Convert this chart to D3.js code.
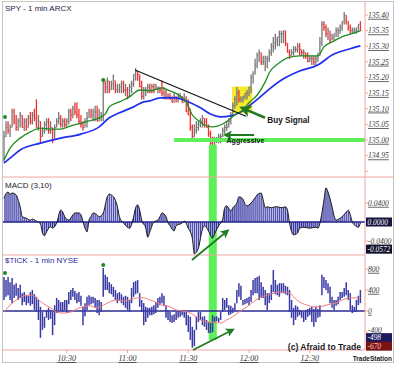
<!DOCTYPE html>
<html><head><meta charset="utf-8">
<script src="https://cdn.jsdelivr.net/npm/d3@7"></script>
<style>body{margin:0;background:#fff}svg{display:block}text{font-family:"Liberation Sans",Arial,sans-serif}text.ax{font-family:"Liberation Serif","DejaVu Serif",serif;font-style:italic}</style>
</head><body><svg id="c" width="400" height="368"></svg>
<script>
// ---------- DATA (1-minute bars starting 09:59) ----------
const startTime = "09:59";
const priceHigh = [135.03,135.06,135.06,135.05,135.10,135.10,135.08,135.07,135.09,135.08,
135.07,135.07,135.08,135.09,135.09,135.10,135.13,135.08,135.06,135.04,
135.06,135.07,135.07,135.06,135.04,135.05,135.07,135.09,135.08,135.07,
135.07,135.07,135.10,135.10,135.11,135.12,135.12,135.10,135.08,135.06,
135.07,135.09,135.10,135.10,135.10,135.11,135.11,135.10,135.09,135.19,
135.19,135.20,135.19,135.19,135.21,135.19,135.18,135.18,135.19,135.19,
135.18,135.17,135.18,135.19,135.21,135.23,135.22,135.21,135.19,135.17,
135.17,135.18,135.18,135.18,135.18,135.18,135.17,135.17,135.19,135.17,
135.16,135.15,135.15,135.14,135.15,135.14,135.15,135.15,135.14,135.15,
135.14,135.13,135.10,135.05,135.05,135.06,135.06,135.07,135.08,135.07,
135.07,135.05,135.03,135.01,135.01,135.01,135.02,135.02,135.04,135.05,
135.06,135.07,135.09,135.12,135.14,135.17,135.16,135.14,135.14,135.15,
135.16,135.17,135.21,135.22,135.26,135.28,135.29,135.28,135.27,135.27,
135.27,135.29,135.31,135.33,135.34,135.33,135.35,135.35,135.35,135.35,
135.31,135.29,135.29,135.30,135.30,135.31,135.31,135.29,135.29,135.28,
135.28,135.27,135.27,135.27,135.27,135.28,135.33,135.38,135.38,135.37,
135.36,135.35,135.34,135.34,135.36,135.36,135.37,135.38,135.41,135.40,
135.38,135.37,135.36,135.36,135.36,135.37,135.38];
const priceLow = [134.93,135.01,135.02,135.01,135.04,135.05,135.03,135.03,135.04,135.04,
135.03,135.03,135.04,135.05,135.05,135.06,135.04,135.03,134.99,135.01,
135.02,135.03,135.02,135.02,134.99,135.00,135.04,135.05,135.04,135.04,
135.04,135.04,135.05,135.06,135.07,135.08,135.07,135.05,135.04,135.03,
135.04,135.04,135.07,135.07,135.06,135.06,135.06,135.06,135.06,135.06,
135.15,135.15,135.15,135.16,135.16,135.15,135.15,135.15,135.15,135.15,
135.14,135.13,135.14,135.15,135.17,135.19,135.19,135.17,135.13,135.13,
135.14,135.15,135.15,135.15,135.15,135.16,135.15,135.15,135.14,135.13,
135.13,135.13,135.13,135.12,135.12,135.12,135.12,135.13,135.12,135.12,
135.09,135.08,135.03,135.00,135.01,135.02,135.03,135.04,135.04,135.04,
135.04,135.01,134.98,134.97,134.97,134.99,134.99,134.99,135.01,135.02,
135.03,135.04,135.05,135.08,135.10,135.11,135.12,135.12,135.12,135.13,
135.13,135.14,135.15,135.18,135.21,135.23,135.25,135.24,135.24,135.22,
135.23,135.25,135.27,135.28,135.29,135.30,135.30,135.31,135.31,135.30,
135.28,135.26,135.27,135.27,135.28,135.28,135.27,135.27,135.26,135.26,
135.25,135.25,135.24,135.24,135.24,135.25,135.27,135.30,135.35,135.33,
135.32,135.31,135.32,135.32,135.33,135.33,135.34,135.35,135.37,135.37,
135.35,135.34,135.34,135.34,135.34,135.35,135.35];
const priceClose = [135.01,135.04,135.03,135.04,135.09,135.06,135.04,135.06,135.08,135.04,
135.06,135.04,135.07,135.06,135.08,135.07,135.04,135.06,135.01,135.03,
135.05,135.06,135.03,135.04,135.00,135.04,135.06,135.07,135.05,135.06,
135.05,135.06,135.09,135.08,135.10,135.09,135.08,135.06,135.05,135.04,
135.06,135.07,135.09,135.08,135.09,135.09,135.06,135.07,135.08,135.18,
135.17,135.19,135.16,135.18,135.19,135.16,135.16,135.17,135.18,135.16,
135.16,135.14,135.17,135.18,135.21,135.22,135.21,135.17,135.14,135.16,
135.16,135.17,135.16,135.17,135.16,135.17,135.17,135.16,135.15,135.15,
135.14,135.14,135.13,135.12,135.14,135.13,135.14,135.14,135.12,135.13,
135.09,135.08,135.04,135.01,135.03,135.04,135.05,135.06,135.07,135.06,
135.04,135.02,134.99,134.98,135.00,135.00,135.01,135.01,135.03,135.04,
135.04,135.06,135.08,135.11,135.13,135.15,135.13,135.13,135.14,135.15,
135.15,135.17,135.20,135.21,135.24,135.27,135.28,135.25,135.25,135.26,
135.26,135.28,135.30,135.31,135.32,135.33,135.34,135.34,135.35,135.31,
135.28,135.27,135.28,135.29,135.29,135.30,135.29,135.28,135.28,135.27,
135.25,135.26,135.26,135.25,135.26,135.27,135.31,135.37,135.36,135.34,
135.35,135.32,135.33,135.34,135.35,135.35,135.36,135.38,135.40,135.38,
135.36,135.35,135.35,135.35,135.35,135.37,135.35];
const firstOpen = 134.96;
// moving averages [minute, value]
const maFast = [[0,134.936],[3,134.974],[8,135.006],[13,135.026],[18,135.038],[23,135.035],[28,135.035],[33,135.045],[38,135.054],[42,135.061],[47,135.071],[50,135.083],[52,135.106],[57,135.122],[62,135.138],[67,135.160],[72,135.157],[78,135.167],[82,135.157],[87,135.141],[90,135.122],[93,135.080],[97,135.058],[99,135.048],[103,135.042],[107,135.048],[111,135.064],[114,135.080],[118,135.096],[121,135.119],[125,135.144],[129,135.186],[131,135.215],[136,135.247],[140,135.263],[146,135.269],[151,135.269],[155,135.269],[158,135.298],[163,135.317],[168,135.333],[173,135.343],[176,135.349]];
const maSlow = [[0,134.926],[3,134.942],[8,134.968],[18,134.990],[28,135.006],[38,135.019],[47,135.042],[52,135.071],[57,135.087],[64,135.106],[69,135.122],[72,135.125],[77,135.135],[85,135.135],[90,135.125],[97,135.103],[102,135.083],[107,135.074],[112,135.077],[117,135.090],[121,135.109],[126,135.135],[131,135.163],[138,135.196],[146,135.221],[155,135.240],[162,135.272],[171,135.292],[176,135.301]];
const priceDots = [[0.5,135.074],[49,135.192]];
const macd = [[0,0.050],[1,0.060],[2,0.063],[3,0.058],[4,0.061],[6,0.057],[7,0.046],[8,0.032],[9,0.011],[11,0.008],[13,0.004],[14,0.006],[16,0.002],[18,-0.004],[19,-0.023],[20,-0.029],[21,-0.021],[23,-0.010],[24,-0.013],[26,-0.002],[28,0.025],[29,0.021],[30,0.011],[32,0.004],[34,0.015],[35,0.019],[37,0.019],[38,0.015],[40,-0.013],[41,-0.021],[42,0.004],[43,0.012],[44,0.019],[46,0.015],[47,0.011],[49,0.019],[51,0.053],[52,0.059],[53,0.057],[55,0.046],[56,0.032],[57,0.011],[59,-0.002],[61,-0.011],[62,-0.013],[64,0.011],[65,0.030],[66,0.036],[67,0.025],[68,0.004],[70,-0.013],[71,-0.032],[72,-0.021],[74,0.000],[76,0.004],[77,0.011],[78,0.019],[80,0.011],[81,-0.002],[82,-0.008],[84,-0.019],[85,-0.008],[88,-0.002],[89,0.002],[91,-0.013],[93,-0.034],[94,-0.067],[96,-0.055],[98,-0.015],[99,-0.008],[101,-0.019],[103,-0.034],[104,-0.025],[106,-0.008],[108,0.006],[109,0.030],[110,0.034],[112,0.023],[113,0.030],[115,0.040],[116,0.053],[118,0.048],[119,0.038],[120,0.034],[122,0.040],[124,0.051],[125,0.057],[127,0.061],[128,0.046],[129,0.030],[130,0.032],[132,0.030],[134,0.032],[135,0.032],[137,0.030],[139,0.032],[140,0.025],[141,-0.002],[143,-0.027],[145,-0.023],[146,-0.013],[148,-0.011],[151,-0.013],[154,-0.011],[155,-0.013],[157,0.019],[158,0.046],[159,0.072],[160,0.063],[162,0.032],[163,0.013],[164,0.004],[166,0.008],[167,0.011],[169,0.021],[170,0.025],[171,0.015],[172,0.000],[173,-0.006],[175,-0.011],[176,-0.002]];
const tickHigh = [650,590,650,550,630,500,530,440,500,340,
360,300,290,360,400,320,270,210,80,-20,
-110,20,60,20,-20,110,250,210,170,170,
210,210,360,400,440,380,340,360,290,80,
150,270,300,270,270,250,210,210,170,820,
690,650,550,510,460,400,340,360,320,270,
290,270,210,440,550,570,590,340,210,150,
80,60,60,80,110,170,250,270,340,290,
110,20,-20,-80,-60,-20,20,20,20,0,
-20,-80,-110,-300,-360,-110,-20,-20,-110,-100,
-170,-210,-230,-80,-110,-100,-130,-20,250,210,
250,110,100,60,150,400,530,480,210,230,
250,270,400,590,630,650,670,550,460,400,
340,340,500,780,590,500,530,530,530,480,
460,400,210,60,110,80,20,0,-20,20,
40,60,80,40,80,40,110,690,650,590,
530,460,270,210,210,270,360,360,440,550,
400,340,110,80,210,290,400];
const tickLow = [210,270,300,210,150,250,290,210,250,110,
170,110,150,100,130,20,-20,-170,-510,-360,
-320,-130,-170,-150,-460,-270,-40,20,0,-20,
20,-40,130,210,270,210,150,170,100,-270,
-100,20,110,130,150,60,-40,-80,-20,270,
400,400,340,320,270,210,150,190,150,110,
60,20,-20,150,270,320,340,80,-20,-270,
-210,-130,-80,-80,-60,-40,60,110,150,100,
-130,-170,-210,-230,-210,-170,-130,-110,-80,-130,
-270,-400,-550,-700,-670,-360,-210,-170,-270,-300,
-360,-420,-420,-400,-210,-190,-210,-170,-20,20,
60,-80,-60,-40,0,150,270,210,110,130,
150,110,170,300,340,340,210,250,250,110,
20,150,210,360,320,300,270,340,340,320,
300,-20,-130,-270,-170,-110,-80,-130,-210,-170,
-110,-80,-210,-300,-210,-130,-110,300,440,400,
340,150,60,20,100,130,210,250,270,300,
210,20,-40,-20,-20,110,150];
const tickMA = [[0,-20],[4,150],[8,250],[11,300],[14,300],[16,250],[19,150],[23,60],[26,-20],[29,-40],[33,-20],[36,40],[39,80],[42,100],[46,60],[49,110],[52,170],[56,210],[59,190],[62,210],[66,250],[69,250],[72,210],[76,150],[78,110],[82,80],[85,20],[88,0],[92,-40],[95,-110],[97,-170],[100,-210],[103,-210],[107,-230],[110,-170],[113,-110],[116,-20],[120,80],[123,170],[126,250],[130,300],[133,340],[136,360],[140,360],[143,270],[146,170],[150,110],[153,80],[156,80],[158,100],[161,130],[164,150],[167,210],[171,250],[174,250],[176,250]];
const tickDots = [[0.5,724],[49,876]];
const timeLabels = ["10:30","11:00","11:30","12:00","12:30"];
const priceTicks = [134.90,134.95,135.00,135.05,135.10,135.15,135.20,135.25,135.30,135.35,135.40];
const macdLabels = [0.04,-0.04];
const macdBoxes = [[0,"0.0000","#15153e"],[-0.0572,"-0.0572","#10102a"]];
const tickLabels = [800,400,0,-400];
const tickBoxes = [[-498,"-498","#1a1a5c"],[-670,"-670","#7a1414"]];

// ---------- SCALES ----------
const parseHM = s => { const [h,m]=s.split(":").map(Number); return new Date(2011,0,3,h,m); };
const t0 = parseHM(startTime);
const minute = i => new Date(t0.getTime() + i*60000);
const N = priceClose.length;
const x = d3.scaleTime().domain([minute(0), minute(N-1)]).range([4, 4 + 2.025*(N-1)]);
const xi = i => x(minute(i));
const yP = d3.scaleLinear().domain([135.00,135.40]).range([140,15]);
const yM = d3.scaleLinear().domain([0,0.04]).range([222,203]);
const yT = d3.scaleLinear().domain([0,400]).range([311,290]);
const L = 3, R = 365;
const pink = "#f2a3a3";

const svg = d3.select("#c");
const defs = svg.append("defs");
[["cp",2,177],["cm",177,255],["ct",255,350]].forEach(([id,a,b])=>{
  defs.append("clipPath").attr("id",id).append("rect").attr("x",L).attr("y",a).attr("width",R-L).attr("height",b-a);
});
const pat = defs.append("pattern").attr("id","hatch").attr("patternUnits","userSpaceOnUse")
  .attr("x",3.5).attr("width",2.025).attr("height",20);
pat.append("rect").attr("width",2.025).attr("height",20).attr("fill","#b4b4e4").attr("opacity",0.85);
pat.append("rect").attr("width",1).attr("height",20).attr("fill","#30309c");
function marker(id,size){
  defs.append("marker").attr("id",id).attr("viewBox","0 0 10 10").attr("refX",7).attr("refY",5)
    .attr("markerWidth",size).attr("markerHeight",size).attr("markerUnits","userSpaceOnUse").attr("orient","auto")
    .append("path").attr("d","M0,0L10,5L0,10L2.5,5z").attr("fill","#1f7a22");
}
marker("ah1",12); marker("ah2",9); marker("ah3",9);

svg.append("rect").attr("width",400).attr("height",368).attr("fill","#fff");
svg.append("rect").attr("x",2.5).attr("y",1.5).attr("width",391).attr("height",361).attr("fill","none").attr("stroke","#c4c4c4");

// ---------- PRICE PANEL ----------
const gP = svg.append("g").attr("clip-path","url(#cp)");
gP.append("rect").attr("x",xi(112.6)).attr("y",yP(135.171)).attr("width",xi(122.6)-xi(112.6))
  .attr("height",yP(135.086)-yP(135.171)).attr("fill","#f5ea2e");
const bandMin = 103;
svg.append("rect").attr("x",xi(bandMin)-3.8).attr("width",8).attr("y",yP(134.985)).attr("height",yT(-552)-yP(134.985)).attr("fill","#5ef05a");

const bars = d3.range(N).map(i=>({i,h:priceHigh[i],l:priceLow[i],c:priceClose[i],o:i?priceClose[i-1]:firstOpen}));
const col = d => d.c < d.o ? "#ef2e2e" : "#767676";
gP.selectAll("line.pb").data(bars).join("line").attr("class","pb")
  .attr("x1",d=>xi(d.i)).attr("x2",d=>xi(d.i)).attr("y1",d=>yP(d.h)).attr("y2",d=>yP(d.l))
  .attr("stroke",col).attr("stroke-width",1.3);
gP.selectAll("line.pc").data(bars).join("line").attr("class","pc")
  .attr("x1",d=>xi(d.i)).attr("x2",d=>xi(d.i)+1.2).attr("y1",d=>yP(d.c)).attr("y2",d=>yP(d.c))
  .attr("stroke",col).attr("stroke-width",1);
gP.append("line").attr("x1",xi(84)).attr("x2",R).attr("y1",yP(135.00)).attr("y2",yP(135.00))
  .attr("stroke","#5ef05a").attr("stroke-width",4);
const lineP = d3.line().x(d=>xi(d[0])).y(d=>yP(d[1])).curve(d3.curveMonotoneX);
gP.append("path").attr("d",lineP(maSlow)).attr("fill","none").attr("stroke","#1f2ff0").attr("stroke-width",1.7);
gP.append("path").attr("d",lineP(maFast)).attr("fill","none").attr("stroke","#1f8c1f").attr("stroke-width",1.3);
gP.append("line").attr("x1",xi(64.7)).attr("y1",yP(135.224)).attr("x2",xi(119.5)).attr("y2",yP(135.076))
  .attr("stroke","#111").attr("stroke-width",1.2);
gP.selectAll("circle.pd").data(priceDots).join("circle").attr("class","pd")
  .attr("cx",d=>xi(d[0])).attr("cy",d=>yP(d[1])).attr("r",2).attr("fill","#1c8c1c");

// ---------- MACD PANEL ----------
const gM = svg.append("g").attr("clip-path","url(#cm)");
const areaM = d3.area().x(d=>xi(d[0])).y0(yM(0)).y1(d=>yM(d[1])).curve(d3.curveMonotoneX);
const lineM = d3.line().x(d=>xi(d[0])).y(d=>yM(d[1])).curve(d3.curveMonotoneX);
gM.append("path").attr("d",areaM(macd)).attr("fill","url(#hatch)");
gM.append("line").attr("x1",L).attr("x2",R).attr("y1",yM(0)).attr("y2",yM(0)).attr("stroke","#23238c").attr("stroke-width",1.6);
gM.append("path").attr("d",lineM(macd)).attr("fill","none").attr("stroke","#1a1a1a").attr("stroke-width",1);

// ---------- TICK PANEL ----------
const gT = svg.append("g").attr("clip-path","url(#ct)");
gT.append("line").attr("x1",L).attr("x2",R).attr("y1",yT(0)).attr("y2",yT(0)).attr("stroke","#2a2a92").attr("stroke-width",1.5);
const tb = d3.range(tickHigh.length).map(i=>({i,h:tickHigh[i],l:tickLow[i]}));
gT.selectAll("line.tb").data(tb).join("line").attr("class","tb")
  .attr("x1",d=>xi(d.i)).attr("x2",d=>xi(d.i)).attr("y1",d=>yT(d.h)).attr("y2",d=>yT(d.l))
  .attr("stroke","#3a3aa6").attr("stroke-width",1.5);
const lineT = d3.line().x(d=>xi(d[0])).y(d=>yT(d[1])).curve(d3.curveMonotoneX);
gT.append("path").attr("d",lineT(tickMA)).attr("fill","none").attr("stroke","#f27a7a").attr("stroke-width",1);
gT.selectAll("circle.td").data(tickDots).join("circle").attr("class","td")
  .attr("cx",d=>xi(d[0])).attr("cy",d=>yT(d[1])).attr("r",2).attr("fill","#1c8c1c");

// ---------- FRAME / AXES ----------
const gA = svg.append("g");
gA.append("line").attr("x1",R).attr("x2",R).attr("y1",2).attr("y2",350).attr("stroke",pink);
[[177,393],[255,R],[350,R]].forEach(([yy,x2])=>gA.append("line").attr("x1",L).attr("x2",x2).attr("y1",yy).attr("y2",yy).attr("stroke",pink));
const axTxt = (yy,txt)=>gA.append("text").attr("class","ax").attr("x",368).attr("y",yy+2.8).text(txt)
  .attr("font-size",7.6).attr("fill","#3a3a3a").attr("text-decoration","underline");
const tk = yy=>gA.append("line").attr("x1",R).attr("x2",R+3).attr("y1",yy).attr("y2",yy).attr("stroke",pink);
priceTicks.forEach(p=>{ tk(yP(p)); if(p>134.92) axTxt(yP(p),p.toFixed(2)); });
macdLabels.forEach(v=>{ tk(yM(v)); axTxt(yM(v),v.toFixed(4)); });
tickLabels.forEach(v=>{ tk(yT(v)); axTxt(yT(v)-(v<0?2:0),String(v)); });
function box(yy,txt,fill,tc){
  gA.append("rect").attr("x",366).attr("y",yy-4.5).attr("width",26).attr("height",9).attr("fill",fill);
  gA.append("text").attr("class","ax").attr("x",367.5).attr("y",yy+2.8).text(txt)
    .attr("font-size",7.4).attr("fill",tc||"#fff");
}
macdBoxes.forEach(b=>box(yM(b[0]),b[1],b[2]));
tickBoxes.forEach((b,k)=>box(yT(b[0])+(k?0:0.5),b[1],b[2],k?"#ffc8c8":"#fff"));
timeLabels.forEach(s=>{
  const xx = x(parseHM(s));
  gA.append("line").attr("x1",xx).attr("x2",xx).attr("y1",350).attr("y2",353).attr("stroke",pink);
  gA.append("text").attr("class","ax").attr("x",xx).attr("y",361).attr("text-anchor","middle").text(s)
    .attr("font-size",8).attr("fill","#333").attr("text-decoration","underline");
});
gA.append("text").attr("x",5).attr("y",11).text("SPY - 1 min  ARCX").attr("font-size",8).attr("fill","#1c1c44");
gA.append("text").attr("x",5).attr("y",188).text("MACD (3,10)").attr("font-size",8).attr("fill","#1c1c2c");
gA.append("text").attr("x",5).attr("y",263).text("$TICK - 1 min  NYSE").attr("font-size",8).attr("fill","#2a2a9c");
gA.append("text").attr("x",361).attr("y",350).attr("text-anchor","end").text("(c) Afraid to Trade")
  .attr("font-size",8.6).attr("font-weight","bold").attr("fill","#1a1a1a");
gA.append("text").attr("x",392).attr("y",361).attr("text-anchor","end").text("TradeStation")
  .attr("font-size",6.5).attr("font-weight","bold").attr("fill","#222");

// ---------- ANNOTATIONS ----------
const arrow = (x1,y1,x2,y2,w,m)=>svg.append("line").attr("x1",x1).attr("y1",y1).attr("x2",x2).attr("y2",y2)
  .attr("stroke","#1f7a22").attr("stroke-width",w).attr("marker-end",`url(#${m})`);
arrow(xi(128.9),yP(135.071),xi(117.8),yP(135.102),2.6,"ah1");
arrow(xi(123.5),yP(135.016),xi(109.5),yP(135.016),2,"ah2");
arrow(xi(92.8),yM(-0.080),xi(110.3),yM(-0.019),1.7,"ah3");
arrow(xi(93.3),yT(-743),xi(112.8),yT(-362),1.7,"ah3");
svg.append("text").attr("x",xi(130)).attr("y",yP(135.054)).text("Buy Signal")
  .attr("font-size",8.2).attr("font-weight","bold").attr("fill","#151515");
svg.append("text").attr("x",xi(109.9)).attr("y",yP(134.991)).text("Aggressive")
  .attr("font-size",7).attr("font-weight","bold").attr("fill","#151515");
</script></body></html>
